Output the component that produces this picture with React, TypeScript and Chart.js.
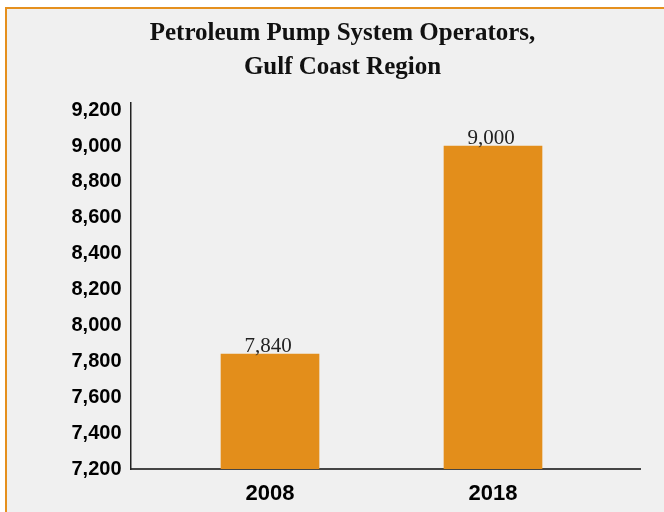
import React, { useEffect, useRef } from "react";
import { Chart, registerables } from "chart.js";

Chart.register(...registerables);

const titleLines = ["Petroleum Pump System Operators,", "Gulf Coast Region"];
const categories = ["2008", "2018"];
const values = [7840, 9000];
const yTickValues = [7200, 7400, 7600, 7800, 8000, 8200, 8400, 8600, 8800, 9000, 9200];

const BAR_COLOR = "#E38E1B";
const BOX_BORDER = "#E5901E";
const PANEL_BG = "#F0F0F0";

const valueLabels = {
  id: "valueLabels",
  afterDatasetsDraw(chart: any) {
    const ctx = chart.ctx;
    const meta = chart.getDatasetMeta(0);
    ctx.save();
    ctx.font = '21px "Liberation Serif"';
    ctx.fillStyle = "#222";
    ctx.textAlign = "center";
    ctx.textBaseline = "alphabetic";
    meta.data.forEach((el: any, i: number) => {
      ctx.fillText(values[i].toLocaleString("en-US"), el.x - 2, el.y - 2);
    });
    ctx.restore();
  },
};

export default function App() {
  const canvasRef = useRef<HTMLCanvasElement | null>(null);

  useEffect(() => {
    if (!canvasRef.current) return;
    const chart = new Chart(canvasRef.current, {
      type: "bar",
      data: {
        labels: categories,
        datasets: [
          {
            data: categories.map((c, i) => ({ x: Number(c), y: values[i] })),
            backgroundColor: BAR_COLOR,
            borderWidth: 0,
            barThickness: 98,
          },
        ],
      },
      options: {
        animation: false,
        responsive: true,
        maintainAspectRatio: false,
        layout: { padding: { left: 38, right: 38, top: 0, bottom: 0 } },
        plugins: {
          legend: { display: false },
          tooltip: { enabled: false },
          title: {
            display: true,
            text: titleLines,
            color: "#111",
            font: { family: "Liberation Serif", size: 25, weight: "bold", lineHeight: 1.38 },
            padding: { top: 7, bottom: 18 },
          },
        },
        scales: {
          x: {
            type: "linear",
            min: 2001.744,
            max: 2024.592,
            offset: false,
            grid: { display: false, drawTicks: false },
            border: { display: true, color: "#454545", width: 2 },
            afterBuildTicks: (scale: any) => {
              scale.ticks = categories.map((c) => ({ value: Number(c) }));
            },
            afterFit: (scale: any) => {
              scale.height = 56;
            },
            ticks: {
              padding: 12,
              color: "#000",
              font: { family: "Liberation Sans", size: 22, weight: "bold" },
              callback: (v: any) => String(v),
            },
          },
          y: {
            min: 7200,
            max: 9240,
            grid: { display: false, drawTicks: false },
            border: { display: true, color: "#222", width: 1.5 },
            afterBuildTicks: (scale: any) => {
              scale.ticks = yTickValues.map((v) => ({ value: v }));
            },
            afterFit: (scale: any) => {
              scale.width = 85.5;
            },
            ticks: {
              padding: 9,
              color: "#000",
              font: { family: "Liberation Sans", size: 20, weight: "bold" },
              callback: (v: any) => Number(v).toLocaleString("en-US"),
            },
          },
        },
      },
      plugins: [valueLabels],
    } as any);
    return () => chart.destroy();
  }, []);

  return (
    <div
      style={{
        position: "fixed",
        left: 0,
        top: 0,
        width: 664,
        height: 512,
        overflow: "hidden",
        background: "#fff",
      }}
    >
      <div
        style={{
          position: "absolute",
          left: 5,
          top: 7,
          width: 675,
          height: 520,
          boxSizing: "border-box",
          border: `2px solid ${BOX_BORDER}`,
          background: PANEL_BG,
        }}
      >
        <div style={{ position: "absolute", left: 0, top: 0, width: 671, height: 516 }}>
          <canvas ref={canvasRef} />
        </div>
      </div>
    </div>
  );
}
